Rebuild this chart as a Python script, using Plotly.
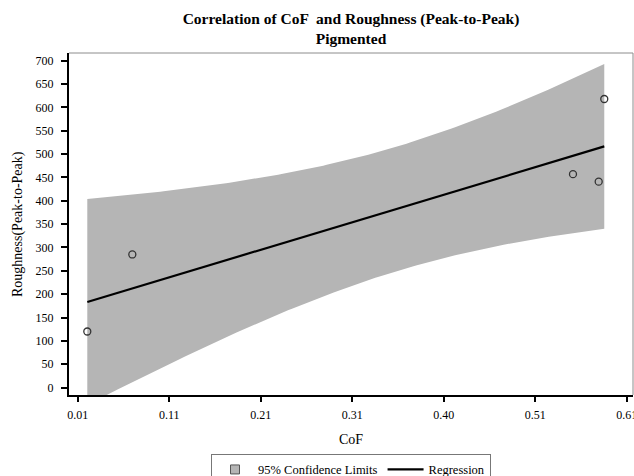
import numpy as np
import plotly.graph_objects as go

# ---- data ----
cof = [0.0205, 0.0697, 0.5513, 0.5794, 0.5855]
roughness = [120, 285, 457, 441, 618]
x_tick_vals = [0.01, 0.11, 0.21, 0.31, 0.41, 0.51, 0.61]
x_tick_text = ["0.01", "0.11", "0.21", "0.31", "0.40", "0.51", "0.61"]
y_tick_vals = list(range(0, 701, 50))
T_975_DF3 = 3.182446  # Student t quantile, 95% two-sided, 3 d.f.

# ---- regression and 95% confidence limits of the mean ----
x = np.array(cof, dtype=float)
y = np.array(roughness, dtype=float)
n = len(x)
slope, intercept = np.polyfit(x, y, 1)
resid = y - (intercept + slope * x)
s = np.sqrt((resid ** 2).sum() / (n - 2))
xbar = x.mean()
sxx = ((x - xbar) ** 2).sum()
xg = np.linspace(x.min(), x.max(), 150)
fit = intercept + slope * xg
half = T_975_DF3 * s * np.sqrt(1.0 / n + (xg - xbar) ** 2 / sxx)
upper = fit + half
lower = fit - half

SERIF = "Liberation Serif, Times New Roman, serif"
BAND = "#b5b5b5"

fig = go.Figure()
fig.add_trace(go.Scatter(
    x=np.concatenate([xg, xg[::-1]]),
    y=np.concatenate([upper, lower[::-1]]),
    mode="lines", fill="toself", fillcolor=BAND,
    line=dict(width=0, color=BAND),
    showlegend=False, hoverinfo="skip", name="95% Confidence Limits",
))
# legend entry for the band (square swatch)
fig.add_trace(go.Scatter(
    x=[None], y=[None], mode="markers",
    marker=dict(symbol="square", size=9, color=BAND,
                line=dict(width=1, color="#555555")),
    name="95% Confidence Limits",
))
fig.add_trace(go.Scatter(
    x=xg, y=fit, mode="lines",
    line=dict(color="black", width=2.2),
    name="Regression",
))
fig.add_trace(go.Scatter(
    x=cof, y=roughness, mode="markers",
    marker=dict(symbol="circle-open", size=7, color="#333333",
                line=dict(width=1.3, color="#333333")),
    showlegend=False, name="Observed",
))

fig.update_layout(
    template="none",
    width=634, height=476,
    margin=dict(l=69, r=1, t=53, b=81, pad=0, autoexpand=False),
    paper_bgcolor="white", plot_bgcolor="white",
    font=dict(family=SERIF, size=12, color="black"),
    title=dict(
        text="<b>Correlation of CoF  and Roughness (Peak-to-Peak)</b><br><b>Pigmented</b>",
        x=0.5536, xanchor="center", y=0.949, yanchor="middle",
        font=dict(family=SERIF, size=15.5, color="black"),
    ),
    xaxis=dict(
        automargin=False,
        range=[0.0005, 0.6169], showline=True, linecolor="black", linewidth=2,
        ticks="outside", ticklen=5, tickwidth=1.5, tickcolor="black",
        tickvals=x_tick_vals, ticktext=x_tick_text,
        ticklabeloverflow="allow", ticklabelstandoff=3,
        showgrid=False, zeroline=False,
        title=dict(text="CoF", font=dict(family=SERIF, size=14), standoff=13),
        tickfont=dict(family=SERIF, size=12),
    ),
    yaxis=dict(
        automargin=False,
        range=[-16, 716.5], showline=True, linecolor="black", linewidth=2,
        ticks="outside", ticklen=6, tickwidth=1.5, tickcolor="black",
        tickvals=y_tick_vals, showgrid=False, zeroline=False,
        ticklabelstandoff=5,
        tickfont=dict(family=SERIF, size=12),
    ),
    annotations=[dict(
        text="Roughness(Peak-to-Peak)", textangle=-90,
        xref="paper", yref="paper", x=(18 - 69) / 564, y=0.5,
        xanchor="center", yanchor="middle", showarrow=False,
        font=dict(family=SERIF, size=14, color="black"),
    )],
    legend=dict(
        orientation="h", x=0.5, xanchor="center", y=-0.172, yanchor="top",
        bordercolor="#777777", borderwidth=1, bgcolor="white",
        font=dict(family=SERIF, size=12.5), itemwidth=36,
        tracegroupgap=0,
    ),
    shapes=[
        dict(type="line", xref="paper", yref="paper", x0=0, x1=1, y0=1, y1=1,
             line=dict(color="#8c8c8c", width=1)),
        dict(type="line", xref="paper", yref="paper", x0=1, x1=1, y0=0, y1=1,
             line=dict(color="#8c8c8c", width=1)),
    ],
    showlegend=True,
)

fig.write_html(
    "out.html",
    config={"displayModeBar": False},
    post_script="document.body.style.margin='0px';document.body.style.overflow='hidden';",
)
